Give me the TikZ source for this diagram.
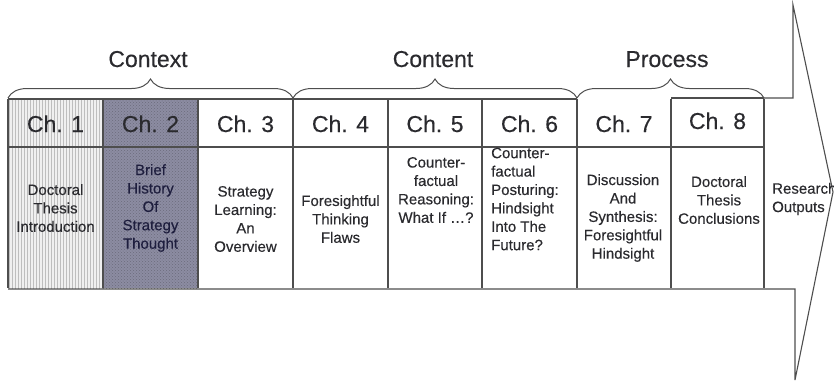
\documentclass[tikz,border=0pt]{standalone}
\usepackage{fontspec}
\setmainfont{Liberation Sans}[FakeBold=0.35]
\usetikzlibrary{patterns,decorations.pathreplacing}

\definecolor{linegray}{RGB}{78,78,78}
\definecolor{txt}{RGB}{42,42,46}
\definecolor{txtdark}{RGB}{30,30,62}
\definecolor{chonebg}{RGB}{240,240,240}
\definecolor{chonestripe}{RGB}{190,190,190}
\definecolor{chtwobg}{RGB}{140,140,162}
\definecolor{chtwodots}{RGB}{108,108,124}

\tikzset{
  frame/.style={draw=linegray, line width=1.1pt},
  hdr/.style={font=\fontsize{23}{26}\selectfont, text=txt, anchor=base, inner sep=0},
  grp/.style={font=\fontsize{23}{26}\selectfont, text=txt, anchor=base, inner sep=0},
  body/.style={font=\fontsize{15}{18.4}\selectfont, text=txt, align=center, inner sep=0},
  bodyleft/.style={body, align=left, anchor=west},
  brc/.style={decorate, decoration={brace, amplitude=19pt}, draw=linegray, line width=1pt},
}

\begin{document}
\begin{tikzpicture}[x=1pt, y=-1pt]
\useasboundingbox (0,0) rectangle (834,383);

% shaded chapter columns
\fill[chonebg] (8,99) rectangle (103,288);
\fill[pattern=vertical lines, pattern color=chonestripe] (8,99) rectangle (103,288);
\fill[chtwobg] (103,99) rectangle (198,288);
\fill[pattern=crosshatch dots, pattern color=chtwodots] (103,99) rectangle (198,288);

% table grid forming the shaft of the arrow
\draw[frame] (8,99) -- (577,99);
\draw[frame] (8,147) -- (764,147);
\draw[frame, line width=1.6pt] (671,98) -- (764,98);
\draw[frame, line width=1.6pt] (671,147) -- (764,147);
\foreach \xx in {8,103,198,293,388,482,577,671,764}
  \draw[frame] (\xx,99) -- (\xx,288);

% arrow outline
\draw[frame, line join=miter] (764,98) -- (793,98) -- (793,5) -- (833,192)
  -- (795,380) -- (795,289) -- (8,289);

% group braces
\draw[brc] (8,98) -- (293,98);
\draw[brc] (293,98) -- (577,98);
\draw[brc] (577,98) -- (764,98);

\node[grp] (context) at (148,67) {Context};
\node[grp] (content) at (433,67) {Content};
\node[grp] (process) at (667,67) {Process};

% chapter headers
\node[hdr] (h1) at (55.5,132) {Ch. 1};
\node[hdr] (h2) at (150.5,132) {Ch. 2};
\node[hdr] (h3) at (245.5,132) {Ch. 3};
\node[hdr] (h4) at (340.5,132) {Ch. 4};
\node[hdr] (h5) at (435,132) {Ch. 5};
\node[hdr] (h6) at (529.5,132) {Ch. 6};
\node[hdr] (h7) at (624,132) {Ch. 7};
\node[hdr] (h8) at (717.5,129) {Ch. 8};

% chapter descriptions
\node[body] (b1) at (55.5,208) {Doctoral\\Thesis\\Introduction};
\node[body, text=txtdark] (b2) at (150.5,208) {Brief\\History\\Of\\Strategy\\Thought};
\node[body] (b3) at (245.5,219) {Strategy\\Learning:\\An\\Overview};
\node[body] (b4) at (340.5,219) {Foresightful\\Thinking\\Flaws};
\node[body] (b5) at (436,190) {Counter-\\factual\\Reasoning:\\What If \ldots?};
\node[bodyleft] (b6) at (491,199) {Counter-\\factual\\Posturing:\\Hindsight\\Into The\\Future?};
\node[body] (b7) at (623,218) {Discussion\\And\\Synthesis:\\Foresightful\\Hindsight};
\node[body] (b8) at (719,200) {Doctoral\\Thesis\\Conclusions};
\node[bodyleft] (out) at (772,199) {Research\\Outputs};
\end{tikzpicture}
\end{document}
